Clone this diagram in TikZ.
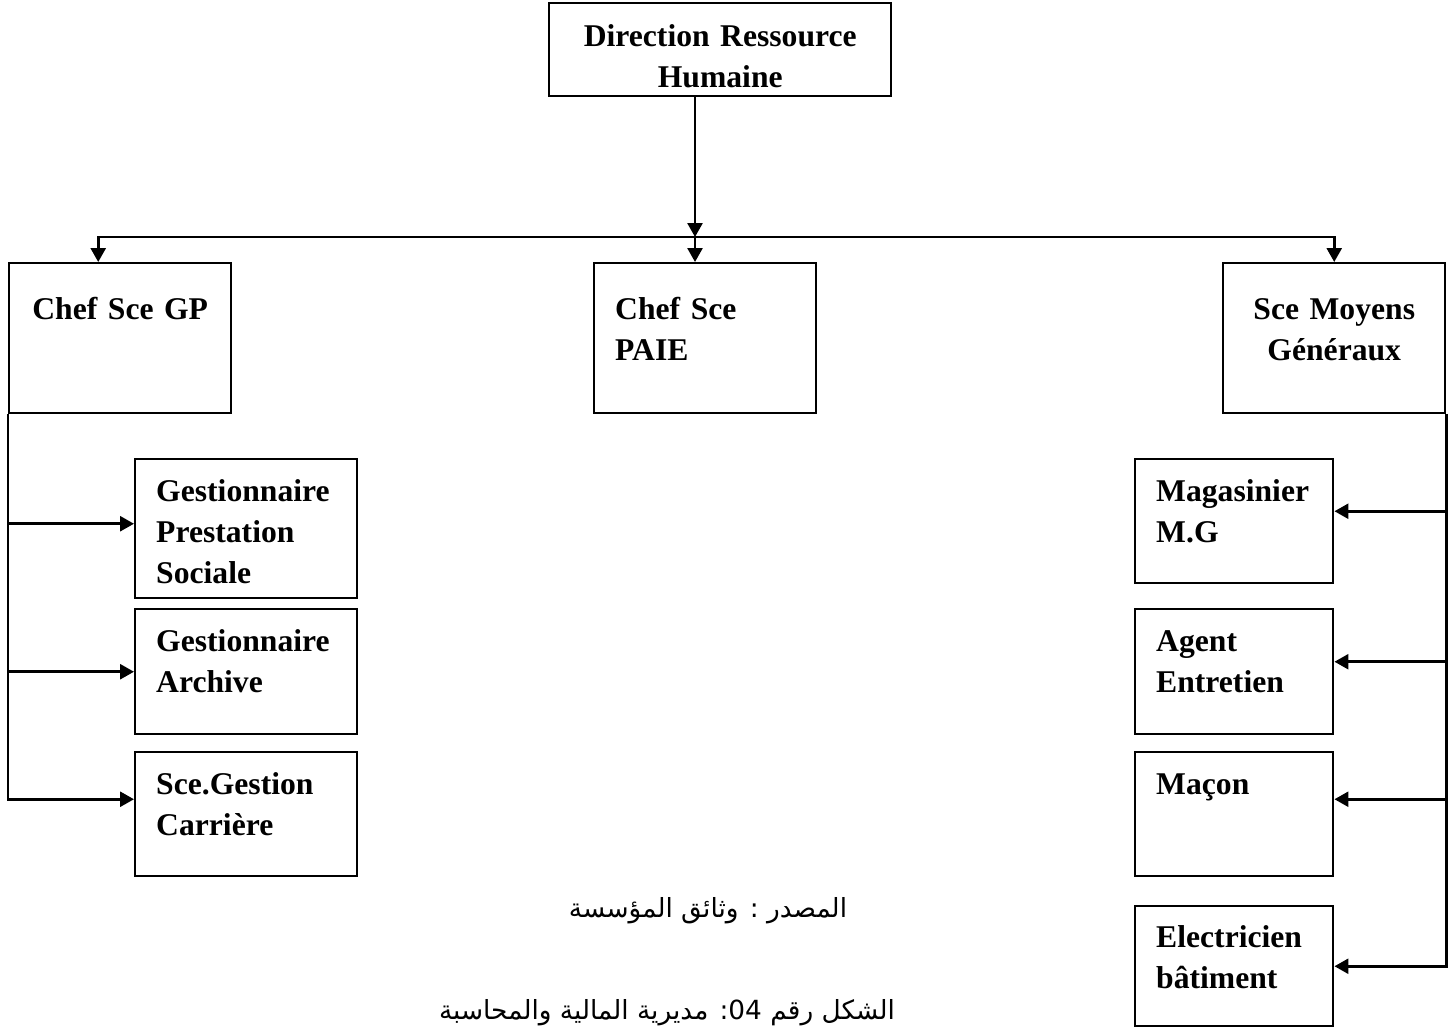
\documentclass[tikz,border=0pt]{standalone}
\usepackage{fontspec}
\setmainfont{Liberation Serif}
\newfontfamily\arabicfont[Script=Arabic]{DejaVu Sans}
\TeXXeTstate=1
\usetikzlibrary{arrows.meta, positioning, calc}

\begin{document}
\begin{tikzpicture}[
    box/.style={draw, line width=1.4pt, anchor=north west, inner xsep=0.42cm, inner ysep=0pt, align=left, text height=0.84cm, font=\bfseries\fontsize{18}{23.5}\selectfont},
    arrow/.style={-{Triangle[length=2.8mm, width=3mm]}, line width=1.5pt},
    arab/.style={font=\arabicfont\fontsize{15}{18}\selectfont}
]
\useasboundingbox (0,0) rectangle (29.1,-20.6);

% --- Direction ---
\node[box, align=center, text width=6.0cm, text height=0.86cm, text depth=1.0cm] (dir_rh) at (10.96,-0.04) {Direction Ressource\\Humaine};

% --- Chefs de service ---
\node[box, align=center, text width=3.6cm, text height=1.12cm, text depth=1.88cm] (chef_gp) at (0.16,-5.24) {Chef Sce GP};
\node[box, text width=3.6cm, text height=1.12cm, text depth=1.88cm] (chef_paie) at (11.86,-5.24) {Chef Sce\\PAIE};
\node[box, align=center, text width=3.6cm, text height=1.12cm, text depth=1.88cm] (sce_mg) at (24.44,-5.24) {Sce Moyens\\Généraux};

% --- Gestion du personnel ---
\node[box, text width=3.6cm, text depth=1.94cm] (gest_ps) at (2.68,-9.16) {Gestionnaire\\Prestation\\Sociale};
\node[box, text width=3.6cm, text depth=1.66cm] (gest_ar) at (2.68,-12.16) {Gestionnaire\\Archive};
\node[box, text width=3.6cm, text depth=1.64cm] (sce_gc) at (2.68,-15.02) {Sce.Gestion\\Carrière};

% --- Moyens generaux ---
\node[box, text width=3.12cm, text depth=1.64cm] (mag_mg) at (22.68,-9.16) {Magasinier\\M.G};
\node[box, text width=3.12cm, text depth=1.66cm] (agt_ent) at (22.68,-12.16) {Agent\\Entretien};
\node[box, text width=3.12cm, text depth=1.64cm] (macon) at (22.68,-15.02) {Maçon};
\node[box, text width=3.12cm, text height=0.82cm, text depth=1.58cm] (elec_bat) at (22.68,-18.1) {Electricien\\bâtiment};

% --- Source ---
\node[arab] (src) at (14.16,-18.22) {\beginR المصدر : وثائق المؤسسة\endR};
\node[arab] (fig) at (13.34,-20.26) {\beginR الشكل رقم \beginL 04\endL: مديرية المالية والمحاسبة\endR};

% --- Liaisons du haut ---
\coordinate (bus) at (13.9,-4.74);
\draw[arrow] (dir_rh.south -| bus) -- (bus);
\draw[arrow] (bus) -- (bus |- chef_paie.north);
\draw[arrow] (bus) -| ([xshift=-0.44cm]chef_gp.north);
\draw[arrow] (bus) -| (sce_mg.north);

% --- Liaisons gauche ---
\coordinate (gp_in1) at ([yshift=0.1cm]gest_ps.west);
\coordinate (gp_in3) at ([yshift=0.3cm]sce_gc.west);
\draw[arrow] (chef_gp.south west) |- (gp_in3);
\draw[arrow] (chef_gp.west |- gp_in1) -- (gp_in1);
\draw[arrow] (chef_gp.west |- gest_ar.west) -- (gest_ar.west);

% --- Liaisons droite ---
\coordinate (mg_in1) at ([yshift=0.2cm]mag_mg.east);
\coordinate (mg_in2) at ([yshift=0.2cm]agt_ent.east);
\coordinate (mg_in3) at ([yshift=0.3cm]macon.east);
\draw[arrow] (sce_mg.south east) |- (elec_bat.east);
\draw[arrow] (sce_mg.east |- mg_in1) -- (mg_in1);
\draw[arrow] (sce_mg.east |- mg_in2) -- (mg_in2);
\draw[arrow] (sce_mg.east |- mg_in3) -- (mg_in3);

\end{tikzpicture}
\end{document}
